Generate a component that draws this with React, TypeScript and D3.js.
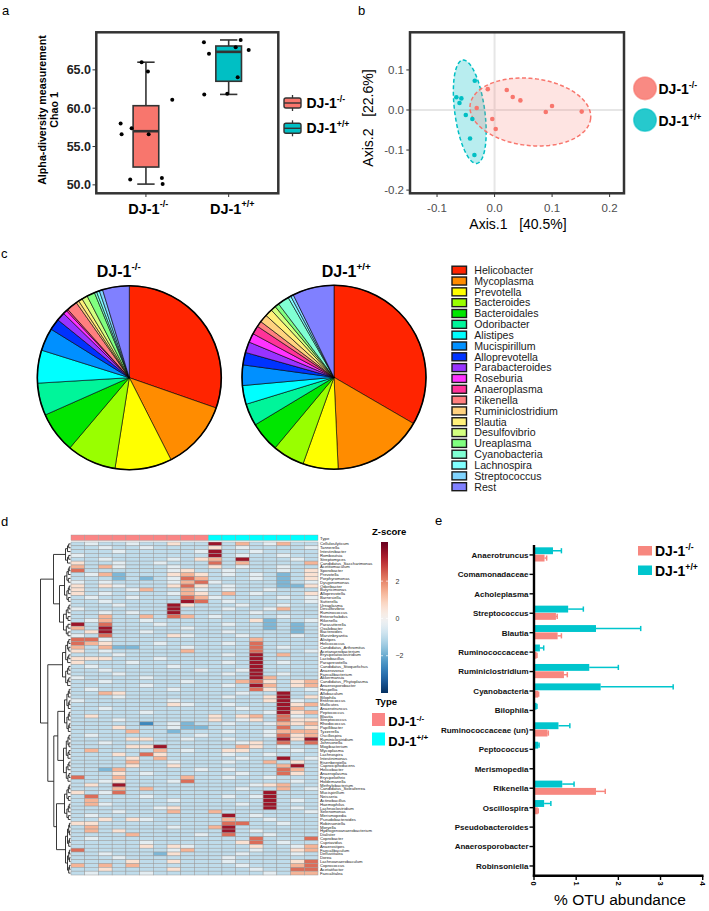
import React from 'react';
import * as d3 from 'd3';

const FONT = "'Liberation Sans', Arial, Helvetica, sans-serif";
const KO_COL = '#F8766D';
const WT_COL = '#00BFC4';

// ---------------- panel a : Chao1 ----------------
const groupKeys = ['KO', 'WT'];
const groupSup = ['-/-', '+/+'];
const chaoKO = [58.0, 56.6, 57.4, 56.6, 50.7, 66.0, 64.8, 61.1, 50.9, 50.1];
const chaoWT = [68.6, 67.1, 61.8, 61.9, 67.95, 68.9, 67.6, 64.05];
const jitterKO = [-0.306, -0.294, -0.173, 0.033, -0.19, -0.052, 0.024, 0.318, 0.193, 0.202];
const jitterWT = [-0.299, -0.238, -0.295, -0.017, 0.085, 0.145, 0.242, 0.109];
const chaoTicks = [50, 55, 60, 65];

// ---------------- panel b : PCoA ----------------
const pcoaKOx = [-0.0118, 0.0212, 0.0316, 0.0449, -0.031, -0.004, 0.002, 0.089, 0.0999, 0.1515];
const pcoaKOy = [0.052, 0.05, 0.0325, 0.024, 0.005, -0.0225, -0.0475, -0.005, 0.01, -0.004];
const pcoaWTx = [-0.0344, -0.0664, -0.0577, -0.061, -0.05, -0.0386, -0.0426, -0.035];
const pcoaWTy = [0.073, 0.032, 0.029, 0.0175, -0.0125, -0.0225, -0.071, -0.1125];
// centre x, centre y, semi-axis u (x,y), semi-axis v (x,y) in data units
const ellipseKO = [0.0622, -0.005, 0.1048, -0.0165, -0.0063, -0.0833];
const ellipseWT = [-0.0431, -0.0043, -0.0122, 0.129, 0.0258, 0.005];
const pcoaXTicks = [-0.1, 0.0, 0.1, 0.2];
const pcoaYTicks = [-0.2, -0.1, 0.0, 0.1];

// ---------------- panel c : pies ----------------
const pieLabels = ['Helicobacter', 'Mycoplasma', 'Prevotella', 'Bacteroides', 'Bacteroidales', 'Odoribacter', 'Alistipes', 'Mucispirillum', 'Alloprevotella', 'Parabacteroides', 'Roseburia', 'Anaeroplasma', 'Rikenella', 'Ruminiclostridium', 'Blautia', 'Desulfovibrio', 'Ureaplasma', 'Cyanobacteria', 'Lachnospira', 'Streptococcus', 'Rest'];
const pieColors = ['#FF2400', '#FF8C00', '#FFFF00', '#99FF00', '#00E600', '#00F59A', '#00FFFF', '#0090FF', '#0033FF', '#9933FF', '#FF33FF', '#FF3399', '#FF7F7F', '#FFD27F', '#FFF07A', '#D4FF80', '#80FF80', '#80FFD4', '#80FFFF', '#80D4FF', '#8080FF'];
const pieKO = [30.4, 12.2, 10.0, 8.7, 7.2, 5.7, 5.8, 4.0, 2.0, 1.5, 0.7, 0.3, 1.9, 0.5, 0.7, 1.0, 1.4, 0.4, 0.5, 0.6, 4.7];
const pieWT = [33.4, 15.9, 6.2, 5.6, 5.3, 3.9, 3.3, 3.6, 2.2, 1.9, 1.6, 1.5, 1.0, 1.4, 1.3, 0.9, 0.75, 2.0, 0.5, 0.5, 7.3];

// ---------------- panel d : heatmap ----------------
const sampleType = ['KO', 'KO', 'KO', 'KO', 'KO', 'KO', 'KO', 'KO', 'KO', 'KO', 'WT', 'WT', 'WT', 'WT', 'WT', 'WT', 'WT', 'WT'];
const heatLabels = ['Cellulosilyticum', 'Tannerella', 'Intestinibacter', 'Romboutsia', 'Streptomyces', 'Candidatus_Saccharimonas', 'Acetitomaculum', 'Sporobacter', 'Prevotella', 'Porphyromonas', 'Dysgonomonas', 'Odoribacter', 'Butyricimonas', 'Alloprevotella', 'Barnesiella', 'Sutterella', 'Ureaplasma', 'Desulfovibrio', 'Ruminococcus', 'Enterorhabdus', 'Rikenella', 'Parasutterella', 'Oxalobacter', 'Bacteroides', 'Marvinbryantia', 'Alistipes', 'Helicococcus', 'Candidatus_Arthromitus', 'Acetanaerobacterium', 'Erysipelatoclostridium', 'Lactobacillus', 'Paraprevotella', 'Candidatus_Stoquefichus', 'Anaerovorax', 'Faecalibacterium', 'Akkermansia', 'Candidatus_Phytoplasma', 'Anaerosporobacter', 'Hespellia', 'Allobaculum', 'Bilophila', 'Enterococcus', 'Mollicutes', 'Anaerotruncus', 'Peptococcus', 'Blautia', 'Streptococcus', 'Rhodococcus', 'Papillibacter', 'Tyzzerella', 'Oscillospira', 'Ruminiclostridium', 'Johnsonella', 'Mogibacterium', 'Mycoplasma', 'Lachnospira', 'Intestinimonas', 'Eisenbergiella', 'Caproiciproducens', 'Helicobacter', 'Anaeroplasma', 'Erysipelothrix', 'Holdemanella', 'Methylobacterium', 'Candidatus_Soleaferrea', 'Mucispirillum', 'Neisseria', 'Actinobacillus', 'Haemophilus', 'Lachnoclostridium', 'Selenomonas', 'Merismopedia', 'Pseudobacteroides', 'Robinsoniella', 'Moryella', 'Hydrogenoanaerobacterium', 'Dialister', 'Coprobacter', 'Cupriavidus', 'Anaerostipes', 'Faecalibaculum', 'Defluviitalea', 'Dorea', 'Lachnoanaerobaculum', 'Coprococcus', 'Acetatifactor', 'Faecalitalea'];
// z-score levels per cell: a..h  (KO columns | WT columns)
const zLevelCodes = ['a', 'b', 'c', 'd', 'e', 'f', 'g', 'h'];
const zLevelValues = [-2.6, -1.8, -1.0, -0.4, 0.6, 1.4, 2.3, 3.5];
const heatRows = [
  'cdccdccecc|hcfcdfcc', 'ccdccdcccc|ecdccccd', 'cccdcccccd|hccdcccc', 'dccccccccc|hcdccdcc', 'ccdccccdce|fchcccdc',
  'eccdccdccc|gcfccccf', 'fcfdcccdcc|ecdccdcc', 'gccccccdec|cdcccdce', 'cdfbcccefe|cdcdcbce', 'cccbcbcdgf|cccdcbce',
  'dcdccccdfg|dccccbcd', 'ecedcccege|cdcccbbe', 'ecccdfccfd|cdccdccc', 'ecdccccdfe|cfcdccce', 'cdccdcccgf|dccccdcd',
  'ccdccccchg|cdcccccd', 'cccdccchec|ccdccdcc', 'dcccccchcc|cdccdfcc', 'ccdcdcchcc|cccdcccc', 'ccfccfcgfc|dccccdcc',
  'cdfccdcccc|cccebccd', 'hcgcccdccc|cdccbcbc', 'fchcccccdc|ccccbcbc', 'cehccdcccc|cdccccbc', 'dcgccccedc|ccdcccdc',
  'ggdccccccc|cccfcccc', 'gfecccdccc|cdcgcccc', 'fcfbbcccdc|cccgcdcc', 'ecdcccccfc|cccgcccd', 'cccdcccccc|cdchcfcc',
  'eeecccdccc|ccchcccc', 'ecccdccccc|cdchcdcc', 'cdcccccdcc|ccchcccc', 'ccdccccccd|ccdhcccc', 'cccdcccccc|cdchcdcc',
  'dccccdcccc|ccchfccc', 'ccdcccccdc|ccfgecef', 'cccccdcccc|cdchfcef', 'cdcccccdcc|cccgeccd', 'ccfecccccc|ccdcchcc',
  'cccdcccccc|cdccehce', 'dccccccdcc|ccccehdc', 'cccccccedc|cdccchef', 'ccdccccccc|ccdcchfc', 'cccccdcccc|ccccdhef',
  'cecccccccc|ecefcgdc', 'cccdcccccc|ecdecgee', 'cccccacdbc|cdccdfef', 'cccecccdbb|cccccgce', 'ccccfccbcc|cdccdfff',
  'cdcccccccd|ccccdgef', 'cccceeccdc|cdcccheh', 'ccdccccccc|ccdecgcg', 'cccceehccc|ccfecdcc', 'cfccccfcdc|ceecccdc',
  'cccecgeccc|cdccdccc', 'ccccecfccc|ccdcchcd', 'ccccfccdcc|cdccfcec', 'cccceccecc|cccccfhc', 'ccbfcccccd|cdcccgfc',
  'cccecdcccc|ccdccgec', 'gccfccccfc|cdccdccc', 'ccdecccdgc|ccccccdc', 'cechcccccc|cccdefcc', 'cccfcfcccc|ccdccfcd',
  'ecdgcccccc|cccchccc', 'cgcccdcccc|cdcdhccc', 'cfcccccdcc|cccchcdc', 'cfdccccccc|ccdchccc', 'ccccccdecc|cccchcdc',
  'cccdcccfcc|fccccccd', 'cdcccccccc|chcdcccc', 'ccecedcccc|cfccdccc', 'eecccccccc|cggccdcc', 'cfcccccdcc|fhcccccc',
  'cfcecccccc|chcdcccc', 'ccccfccccd|cgccdccc', 'cdcccccccc|cccgcccg', 'cccccdcccc|ccegcdcc', 'cccccecedc|ccceccdf',
  'gccccccdfc|cccdccef', 'ccdcccbecc|ccdcccdc', 'cccdcccccc|cdcccccc', 'cccceccecc|cdcccceg', 'fcfcfccccc|ccdcccfg',
  'cceccccecc|cccdccgg', 'cdcccdcccc|ccccdcff',
];
// row dendrogram: internal node [height, left, right]; leaf block [firstRow, lastRow, height]
const rowTree: any = [30,
  [17, [0, 5, 5], [11, [6, 15, 6], [16, 24, 7]]],
  [22.7, [25, 37, 8], [16.7, [12.7, [38, 49, 6], [50, 62, 7]], [14, [63, 72, 6], [73, 86, 5]]]]];
const zTicks = [-2, 0, 2];

// ---------------- panel e : OTU abundance ----------------
const otuCats = ['Anaerotruncus', 'Comamonadaceae', 'Acholeplasma', 'Streptococcus', 'Blautia', 'Ruminococcaceae', 'Ruminiclostridium', 'Cyanobacteria', 'Bilophila', 'Ruminococcaceae (un)', 'Peptococcus', 'Merismopedia', 'Rikenella', 'Oscillospira', 'Pseudobacteroides', 'Anaerosporobacter', 'Robinsoniella'];
const otuWT = [0.45, 0.02, 0.01, 0.81, 1.47, 0.14, 1.31, 1.58, 0.06, 0.58, 0.10, 0.01, 0.67, 0.24, 0.01, 0.01, 0.01];
const otuWTerr = [0.2, 0, 0, 0.36, 1.06, 0.09, 0.69, 1.72, 0.01, 0.27, 0.02, 0, 0.28, 0.16, 0, 0, 0];
const otuKO = [0.25, 0.01, 0.01, 0.52, 0.56, 0.06, 0.71, 0.10, 0.01, 0.32, 0.01, 0.0, 1.47, 0.09, 0.0, 0.0, 0.0];
const otuKOerr = [0.05, 0, 0, 0.03, 0.09, 0.01, 0.08, 0.01, 0, 0.02, 0, 0, 0.22, 0.01, 0, 0, 0];
const otuTicks = [0, 1, 2, 3, 4];

function DJ({ x, y, sup, size, anchor = 'start', weight = 'bold', fill = '#000' }: any) {
  return (
    <text x={x} y={y} fontSize={size} fontWeight={weight} fontFamily={FONT} textAnchor={anchor} fill={fill}>
      DJ-1<tspan dy={-size * 0.42} fontSize={size * 0.62}>{sup}</tspan>
    </text>
  );
}

function PanelA() {
  const x = d3.scalePoint<string>().domain(groupKeys).range([96.3, 278.3]).padding(0.6);
  const y = d3.scaleLinear().domain([48.9, 69.9]).range([193.3, 32.3]);
  const step = x.step();
  const sets = [
    { key: 'KO', vals: chaoKO, jit: jitterKO, col: KO_COL },
    { key: 'WT', vals: chaoWT, jit: jitterWT, col: WT_COL },
  ];
  const boxW = 0.31 * step;
  const capW = 0.21 * step;
  return (
    <g>
      <text x={2} y={15} fontSize={13} fontFamily={FONT}>a</text>
      {sets.map((s) => {
        const sorted = [...s.vals].sort(d3.ascending);
        const q1 = d3.quantile(sorted, 0.25)!;
        const med = d3.quantile(sorted, 0.5)!;
        const q3 = d3.quantile(sorted, 0.75)!;
        const iqr = q3 - q1;
        const lo = d3.min(sorted.filter((v) => v >= q1 - 1.5 * iqr))!;
        const hi = d3.max(sorted.filter((v) => v <= q3 + 1.5 * iqr))!;
        const cx = x(s.key)!;
        return (
          <g key={s.key} stroke="#333" strokeWidth={1.6}>
            <line x1={cx} x2={cx} y1={y(hi)} y2={y(q3)} />
            <line x1={cx} x2={cx} y1={y(q1)} y2={y(lo)} />
            <line x1={cx - capW / 2} x2={cx + capW / 2} y1={y(hi)} y2={y(hi)} />
            <line x1={cx - capW / 2} x2={cx + capW / 2} y1={y(lo)} y2={y(lo)} />
            <rect x={cx - boxW / 2} y={y(q3)} width={boxW} height={y(q1) - y(q3)} fill={s.col} />
            <line x1={cx - boxW / 2} x2={cx + boxW / 2} y1={y(med)} y2={y(med)} strokeWidth={2.6} />
          </g>
        );
      })}
      {sets.map((s) =>
        s.vals.map((v, i) => <circle key={s.key + i} cx={x(s.key)! + s.jit[i] * step} cy={y(v)} r={2} fill="#000" />)
      )}
      <rect x={96.3} y={32.3} width={182} height={161} fill="none" stroke="#333" strokeWidth={2.5} />
      {chaoTicks.map((t) => (
        <g key={t}>
          <line x1={92.5} x2={96.3} y1={y(t)} y2={y(t)} stroke="#333" strokeWidth={1} />
          <text x={91} y={y(t) + 4.3} fontSize={12.5} fontWeight="bold" fontFamily={FONT} textAnchor="end" fill="#222">{t.toFixed(1)}</text>
        </g>
      ))}
      {groupKeys.map((k) => (
        <line key={k} x1={x(k)} x2={x(k)} y1={193.3} y2={197} stroke="#333" strokeWidth={1} />
      ))}
      <DJ x={x('KO')! - 17.7} y={213.5} sup={groupSup[0]} size={14.5} />
      <DJ x={x('WT')! - 18.7} y={213.5} sup={groupSup[1]} size={14.5} />
      <text transform="translate(45.5,110) rotate(-90)" fontSize={10.7} fontWeight="bold" fontFamily={FONT} textAnchor="middle">Alpha-diversity measurement</text>
      <text transform="translate(57.5,110) rotate(-90)" fontSize={10.7} fontWeight="bold" fontFamily={FONT} textAnchor="middle">Chao 1</text>
      {sets.map((s, i) => {
        const cy = 103 + i * 25.3;
        return (
          <g key={s.key}>
            <line x1={292.5} x2={292.5} y1={cy - 8} y2={cy + 8} stroke="#333" strokeWidth={1.3} />
            <rect x={284} y={cy - 5} width={17} height={10} rx={2} fill={s.col} stroke="#333" strokeWidth={1.4} />
            <line x1={284} x2={301} y1={cy} y2={cy} stroke="#333" strokeWidth={1.4} />
            <DJ x={306.5} y={cy + 4.5} sup={groupSup[i]} size={14} />
          </g>
        );
      })}
    </g>
  );
}

function ellipsePath(e: number[], xs: any, ys: any) {
  const pts: [number, number][] = d3.range(0, 101).map((k) => {
    const t = (k / 100) * Math.PI * 2;
    return [xs(e[0] + Math.cos(t) * e[2] + Math.sin(t) * e[4]), ys(e[1] + Math.cos(t) * e[3] + Math.sin(t) * e[5])];
  });
  return d3.line()(pts) + 'Z';
}

function PanelB() {
  const x = d3.scaleLinear().domain([-0.147, 0.225]).range([410, 624]);
  const y = d3.scaleLinear().domain([-0.208, 0.194]).range([193.3, 32.3]);
  return (
    <g>
      <text x={358} y={15} fontSize={13} fontFamily={FONT}>b</text>
      <line x1={x(0)} x2={x(0)} y1={33} y2={192.5} stroke="#E6E6E6" strokeWidth={2} />
      <line x1={411} x2={623} y1={y(0)} y2={y(0)} stroke="#E6E6E6" strokeWidth={2} />
      <path d={ellipsePath(ellipseWT, x, y)} fill={WT_COL} fillOpacity={0.28} stroke={WT_COL} strokeWidth={1.5} strokeDasharray="4,2.5" />
      <path d={ellipsePath(ellipseKO, x, y)} fill={KO_COL} fillOpacity={0.2} stroke={KO_COL} strokeWidth={1.5} strokeDasharray="4,2.5" />
      {pcoaWTx.map((v, i) => <circle key={'w' + i} cx={x(v)} cy={y(pcoaWTy[i])} r={2.3} fill={WT_COL} />)}
      {pcoaKOx.map((v, i) => <circle key={'k' + i} cx={x(v)} cy={y(pcoaKOy[i])} r={2.3} fill={KO_COL} />)}
      <rect x={410} y={32.3} width={214} height={161} fill="none" stroke="#333" strokeWidth={2.5} />
      {pcoaXTicks.map((t) => (
        <g key={t}>
          <line x1={x(t)} x2={x(t)} y1={193.3} y2={197} stroke="#333" strokeWidth={1} />
          <text x={x(t)} y={212} fontSize={11.5} fontFamily={FONT} textAnchor="middle" fill="#4D4D4D">{t.toFixed(1)}</text>
        </g>
      ))}
      {pcoaYTicks.map((t) => (
        <g key={t}>
          <line x1={406.3} x2={410} y1={y(t)} y2={y(t)} stroke="#333" strokeWidth={1} />
          <text x={404} y={y(t) + 4} fontSize={11.5} fontFamily={FONT} textAnchor="end" fill="#4D4D4D">{t.toFixed(1)}</text>
        </g>
      ))}
      <text x={518} y={229} fontSize={14} fontFamily={FONT} textAnchor="middle" style={{ whiteSpace: 'pre' }}>{'Axis.1   [40.5%]'}</text>
      <text transform="translate(373,118) rotate(-90)" fontSize={14} fontFamily={FONT} textAnchor="middle" style={{ whiteSpace: 'pre' }}>{'Axis.2   [22.6%]'}</text>
      {[KO_COL, WT_COL].map((c, i) => {
        const cy = 88.3 + i * 31.7;
        return (
          <g key={c}>
            <circle cx={645} cy={cy} r={11.3} fill={c} fillOpacity={0.85} stroke={c} strokeOpacity={0.55} strokeWidth={1.6} />
            <DJ x={658.5} y={cy + 5.5} sup={groupSup[i]} size={14} />
          </g>
        );
      })}
    </g>
  );
}

function PanelC() {
  const pie = d3.pie<number>().sort(null).value((d) => d);
  const arc = d3.arc<d3.PieArcDatum<number>>().innerRadius(0).outerRadius(92);
  const pies = [
    { vals: pieKO, cx: 129.3, cy: 377.7, sup: groupSup[0], tx: 96.7 },
    { vals: pieWT, cx: 334, cy: 377.3, sup: groupSup[1], tx: 321.7 },
  ];
  const ly = d3.scalePoint<string>().domain(pieLabels).range([270.2, 486.7]);
  return (
    <g>
      <text x={1} y={258} fontSize={13} fontFamily={FONT}>c</text>
      {pies.map((p, k) => (
        <g key={k}>
          <DJ x={p.tx} y={276.7} sup={p.sup} size={16} />
          <g transform={`translate(${p.cx},${p.cy})`}>
            {pie(p.vals).map((a, i) => (
              <path key={i} d={arc(a)!} fill={pieColors[i]} stroke="#000" strokeWidth={0.6} strokeLinejoin="round" />
            ))}
            <circle r={92} fill="none" stroke="#000" strokeWidth={1.6} />
          </g>
        </g>
      ))}
      {pieLabels.map((l, i) => (
        <g key={l}>
          <rect x={452} y={ly(l)! - 4} width={14.5} height={8} fill={pieColors[i]} stroke="#1a1a1a" strokeWidth={1.4} />
          <text x={474.3} y={ly(l)! + 3.8} fontSize={10.6} fontFamily={FONT} fill="#1a1a1a">{l}</text>
        </g>
      ))}
    </g>
  );
}

function PanelD() {
  const nR = heatRows.length;
  const hx = d3.scaleBand<number>().domain(d3.range(sampleType.length)).range([71, 318]);
  const hy = d3.scaleBand<number>().domain(d3.range(nR)).range([542, 875]);
  const rh = hy.bandwidth();
  const color = d3.scaleDiverging(d3.interpolateRdBu).domain([4.1, 0, -4.0]);
  const codeVal = (c: string) => zLevelValues[zLevelCodes.indexOf(c)];
  const typeCol: any = { KO: '#FA8585', WT: '#00FFFF' };

  const segs: string[] = [];
  const dx = (h: number) => 70.5 - h;
  const comb = (a: number, b: number, h: number): any => {
    if (a === b) return { y: hy(a)! + rh / 2, h: 0 };
    const m = Math.floor((a + b) / 2);
    const L = comb(a, m, h * 0.6);
    const R = comb(m + 1, b, h * 0.6);
    segs.push(`M${dx(L.h)},${L.y}H${dx(h)}V${R.y}H${dx(R.h)}`);
    return { y: (L.y + R.y) / 2, h };
  };
  const build = (n: any): any => {
    if (typeof n[1] === 'number') return comb(n[0], n[1], n[2]);
    const L = build(n[1]);
    const R = build(n[2]);
    segs.push(`M${dx(L.h)},${L.y}H${dx(n[0])}V${R.y}H${dx(R.h)}`);
    return { y: (L.y + R.y) / 2, h: n[0] };
  };
  build(rowTree);

  const cy = d3.scaleLinear().domain([-4.0, 4.1]).range([693, 542]);
  const grad = d3.range(0, 41).map((k) => -4.0 + (k / 40) * 8.1);

  return (
    <g>
      <text x={1} y={526} fontSize={13} fontFamily={FONT}>d</text>
      {sampleType.map((t, j) => (
        <rect key={'a' + j} x={hx(j)} y={535} width={hx.bandwidth()} height={5.5} fill={typeCol[t]} stroke="#9a9a9a" strokeWidth={0.4} />
      ))}
      <text x={320} y={539.5} fontSize={4.3} fontFamily={FONT} fill="#222">Type</text>
      {heatRows.map((s, i) => {
        const codes = s.replace('|', '');
        return sampleType.map((_, j) => (
          <rect key={i + '-' + j} x={hx(j)} y={hy(i)} width={hx.bandwidth()} height={rh}
            fill={color(codeVal(codes[j] || 'c'))} stroke="#9a9a9a" strokeWidth={0.5} />
        ));
      })}
      {heatLabels.map((l, i) => (
        <text key={l + i} x={320} y={hy(i)! + rh / 2 + 1.5} fontSize={4.2} fontFamily={FONT} fill="#222">{l}</text>
      ))}
      <path d={segs.join('')} fill="none" stroke="#222" strokeWidth={0.9} />
      <text x={372} y={535} fontSize={9.5} fontWeight="bold" fontFamily={FONT}>Z-score</text>
      <defs>
        <linearGradient id="zgrad" x1="0" x2="0" y1="1" y2="0">
          {grad.map((v, k) => <stop key={k} offset={k / 40} stopColor={color(v)} />)}
        </linearGradient>
      </defs>
      <rect x={381} y={542} width={7} height={151} fill="url(#zgrad)" />
      {zTicks.map((t) => (
        <g key={t}>
          <line x1={381} x2={383} y1={cy(t)} y2={cy(t)} stroke="#fff" strokeWidth={0.7} />
          <line x1={386} x2={388} y1={cy(t)} y2={cy(t)} stroke="#fff" strokeWidth={0.7} />
          <text x={395.5} y={cy(t) + 2.5} fontSize={7} fontFamily={FONT} fill="#333">{t < 0 ? '\u2212' + Math.abs(t) : t}</text>
        </g>
      ))}
      <text x={375.5} y={704.5} fontSize={9.5} fontWeight="bold" fontFamily={FONT}>Type</text>
      {['KO', 'WT'].map((k, i) => (
        <g key={k}>
          <rect x={372} y={713 + i * 19.5} width={13} height={13} fill={typeCol[k]} />
          <DJ x={388.3} y={726 + i * 19.5} sup={groupSup[i]} size={13} />
        </g>
      ))}
    </g>
  );
}

function PanelE() {
  const y = d3.scaleBand<string>().domain(otuCats).range([545.2, 875.7]);
  const inner = d3.scaleBand<string>().domain(['WT', 'KO']).range([-7.6, 6.6]).paddingInner(0.06);
  const x = d3.scaleLinear().domain([0, 4]).range([534, 702.7]);
  const series = [
    { key: 'WT', vals: otuWT, err: otuWTerr, col: '#00C5CD' },
    { key: 'KO', vals: otuKO, err: otuKOerr, col: '#F7877F' },
  ];
  const bw = inner.bandwidth();
  return (
    <g>
      <text x={435} y={525} fontSize={13} fontFamily={FONT}>e</text>
      {otuCats.map((c) => {
        const cy = y(c)! + y.bandwidth() / 2;
        return (
          <g key={c}>
            {series.map((s) => {
              const i = otuCats.indexOf(c);
              const v = s.vals[i];
              const by = cy + inner(s.key)!;
              const e = s.err[i];
              return (
                <g key={s.key}>
                  <rect x={x(0)} y={by} width={x(v) - x(0)} height={bw} fill={s.col} />
                  {e > 0 && (
                    <g stroke={s.col} strokeWidth={1.5}>
                      <line x1={x(v)} x2={x(v + e)} y1={by + bw / 2} y2={by + bw / 2} />
                      <line x1={x(v + e)} x2={x(v + e)} y1={by + bw / 2 - 2.6} y2={by + bw / 2 + 2.6} />
                    </g>
                  )}
                </g>
              );
            })}
            <line x1={529.5} x2={534} y1={cy} y2={cy} stroke="#000" strokeWidth={1.4} />
            <text x={528.5} y={cy + 2.9} fontSize={8} fontWeight="bold" fontFamily={FONT} textAnchor="end" fill="#111">{c}</text>
          </g>
        );
      })}
      <line x1={534} x2={534} y1={545} y2={876.8} stroke="#000" strokeWidth={2.4} />
      <line x1={532.8} x2={703.5} y1={875.7} y2={875.7} stroke="#000" strokeWidth={2.4} />
      {otuTicks.map((t) => (
        <g key={t}>
          <line x1={x(t)} x2={x(t)} y1={875.7} y2={880} stroke="#000" strokeWidth={1.4} />
          <text transform={`translate(${x(t)},881.5) rotate(90)`} dy="0.35em" fontSize={7.5} fontWeight="bold" fontFamily={FONT}>{t}</text>
        </g>
      ))}
      <text x={620} y={905} fontSize={15.5} fontFamily={FONT} textAnchor="middle">% OTU abundance</text>
      {[{ c: '#F7877F', sup: groupSup[0] }, { c: '#00C5CD', sup: groupSup[1] }].map((d, i) => (
        <g key={i}>
          <rect x={638} y={546 + i * 19.5} width={14} height={9.5} fill={d.c} />
          <DJ x={655} y={556 + i * 19.5} sup={d.sup} size={14} />
        </g>
      ))}
    </g>
  );
}

export default function App() {
  return (
    <svg width={709} height={911} viewBox="0 0 709 911"
      style={{ position: 'absolute', left: 0, top: 0, background: '#fff', display: 'block' }}>
      <rect width={709} height={911} fill="#fff" />
      <PanelA />
      <PanelB />
      <PanelC />
      <PanelD />
      <PanelE />
    </svg>
  );
}
